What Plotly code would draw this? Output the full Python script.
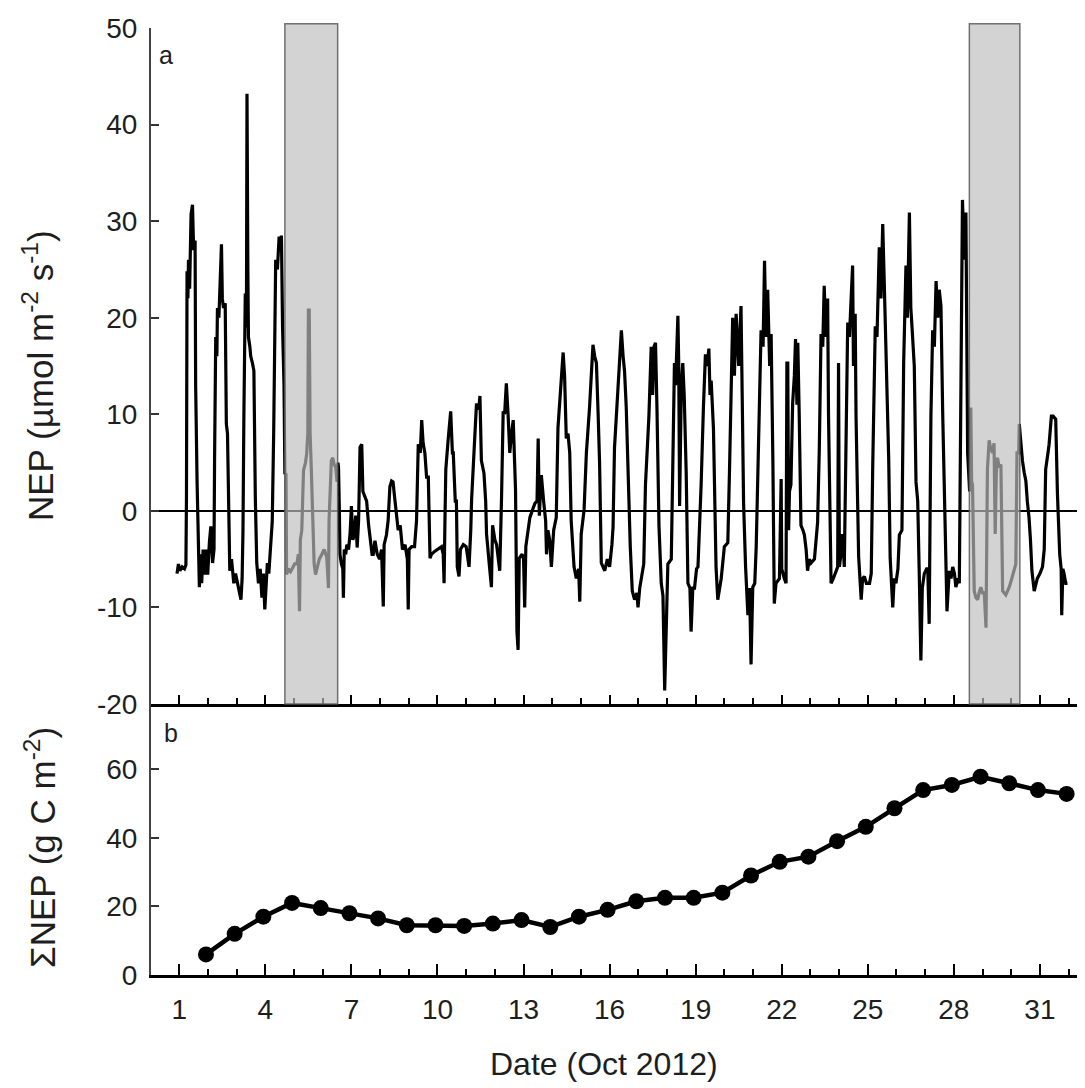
import plotly.graph_objects as go

# ---------------- data ----------------
# Half-hourly NEP (umol m-2 s-1), time as fractional day of Oct 2012
nep_time = [
    0.92, 0.97, 1.02, 1.10, 1.18, 1.23, 1.25, 1.27, 1.30, 1.32, 1.36, 1.41, 1.46, 1.50, 1.55, 1.57, 1.62, 1.65, 1.70, 1.74,
    1.78, 1.83, 1.88, 1.93, 1.99, 2.05, 2.10, 2.16, 2.21, 2.23, 2.27, 2.31, 2.33, 2.38, 2.42, 2.47, 2.50, 2.54, 2.60, 2.64,
    2.68, 2.72, 2.76, 2.82, 2.90, 2.96, 3.03, 3.10, 3.15, 3.19, 3.22, 3.25, 3.28, 3.30, 3.34, 3.36, 3.39, 3.41, 3.46, 3.49,
    3.55, 3.60, 3.65, 3.70, 3.76, 3.82, 3.88, 3.93, 3.98, 4.02, 4.07, 4.12, 4.18, 4.24, 4.29, 4.34, 4.36, 4.42, 4.48, 4.53,
    4.56, 4.60, 4.65, 4.68,
    4.72, 4.74, 4.80, 4.88, 4.95, 5.02, 5.10, 5.15, 5.19, 5.22, 5.27, 5.30, 5.33, 5.40, 5.44, 5.48, 5.50, 5.53, 5.56, 5.60,
    5.65, 5.70, 5.75, 5.80, 5.88, 5.97, 6.05, 6.14, 6.20, 6.22, 6.26, 6.30, 6.35, 6.40, 6.45, 6.50,
    6.53, 6.55, 6.58, 6.60, 6.65, 6.70, 6.72, 6.75, 6.80, 6.84, 6.90, 6.95, 7.00, 7.05, 7.10, 7.15, 7.20, 7.25, 7.30, 7.36,
    7.40, 7.46, 7.53, 7.60, 7.66, 7.72, 7.76, 7.82, 7.90, 7.98, 8.05, 8.11, 8.14,
    8.22, 8.28, 8.34, 8.40, 8.45, 8.52, 8.58, 8.63, 8.70, 8.78, 8.87, 8.95, 8.98, 9.01, 9.10, 9.20, 9.27, 9.30, 9.33, 9.40,
    9.45, 9.50, 9.56, 9.62, 9.68, 9.74, 9.79, 9.90, 10.00, 10.14, 10.20, 10.23, 10.26, 10.29, 10.37, 10.43, 10.46, 10.52, 10.55, 10.62,
    10.66, 10.69, 10.75, 10.80, 10.90, 11.00, 11.10, 11.16, 11.19, 11.28, 11.36, 11.44, 11.48, 11.53, 11.62, 11.68, 11.71, 11.82, 11.88, 11.92,
    12.00, 12.06, 12.17, 12.23, 12.29, 12.34, 12.40, 12.46, 12.52, 12.58, 12.64, 12.70, 12.72, 12.77, 12.81, 12.85, 12.95, 13.00, 13.04, 13.08,
    13.15, 13.22, 13.30, 13.40, 13.47, 13.51, 13.55, 13.62, 13.70, 13.77, 13.80, 13.85, 13.91, 13.97, 14.05, 14.14, 14.20, 14.30, 14.35, 14.38,
    14.43, 14.49, 14.55, 14.61, 14.66, 14.69, 14.76, 14.84, 14.92, 14.96, 15.01, 15.11, 15.19, 15.30, 15.38, 15.42, 15.48, 15.54, 15.60, 15.65,
    15.71, 15.83, 15.92, 16.00, 16.08, 16.12, 16.17, 16.27, 16.35, 16.41, 16.47, 16.52, 16.58, 16.64, 16.72, 16.79, 16.87, 16.95, 16.99, 17.05,
    17.10, 17.19, 17.25, 17.37, 17.45, 17.50, 17.55, 17.60, 17.65, 17.72, 17.80, 17.86, 17.92, 17.97, 18.03, 18.15, 18.21, 18.26, 18.30, 18.38,
    18.41, 18.44, 18.50, 18.55, 18.60, 18.67, 18.73, 18.80, 18.84, 18.90, 18.96, 19.03, 19.08, 19.13, 19.19, 19.27, 19.34, 19.40, 19.46, 19.50,
    19.54, 19.62, 19.68, 19.71, 19.77, 19.85, 19.89, 20.00, 20.12, 20.18, 20.24, 20.29, 20.35, 20.41, 20.50, 20.58, 20.63, 20.67, 20.74, 20.82,
    20.88, 20.93, 20.99, 21.06, 21.11, 21.20, 21.28, 21.35, 21.40, 21.45, 21.51, 21.58, 21.63, 21.69, 21.74, 21.80, 21.92, 21.98, 22.00, 22.09,
    22.15, 22.18, 22.21, 22.24, 22.27, 22.32, 22.38, 22.44, 22.48, 22.53, 22.56, 22.61, 22.67, 22.74, 22.79, 22.85, 22.90, 22.96, 23.02, 23.14,
    23.25, 23.31, 23.37, 23.43, 23.48, 23.54, 23.60, 23.63, 23.66, 23.72, 23.80, 23.89, 23.95, 23.98, 24.01, 24.08, 24.12, 24.18, 24.24, 24.30,
    24.36, 24.41, 24.47, 24.50, 24.56, 24.59, 24.64, 24.68, 24.77, 24.82, 24.88, 24.95, 25.06, 25.12, 25.17, 25.26, 25.32, 25.40, 25.46, 25.52,
    25.58, 25.64, 25.70, 25.73, 25.78, 25.87, 25.92, 25.98, 26.05, 26.10, 26.19, 26.25, 26.33, 26.38, 26.45, 26.50, 26.54, 26.62, 26.68, 26.74,
    26.80, 26.85, 26.90, 26.97, 27.05, 27.09, 27.14, 27.20, 27.26, 27.32, 27.38, 27.44, 27.49, 27.55, 27.61, 27.70, 27.76, 27.84, 27.90, 27.96,
    28.02, 28.07, 28.15, 28.19, 28.25, 28.30, 28.36, 28.42, 28.48,
    28.51, 28.55, 28.59, 28.62, 28.65, 28.71, 28.77, 28.83, 28.88, 28.94, 29.00, 29.06, 29.12, 29.15, 29.17, 29.23, 29.28, 29.35, 29.40, 29.44,
    29.48, 29.52, 29.58, 29.64, 29.67, 29.70, 29.81, 29.93, 30.02, 30.10, 30.16, 30.20,
    30.26, 30.28, 30.33, 30.39, 30.45, 30.51, 30.56, 30.62, 30.67, 30.72, 30.80, 30.86, 30.91, 31.00, 31.09, 31.15, 31.20, 31.28, 31.32, 31.40,
    31.46, 31.55, 31.61, 31.69, 31.74, 31.76, 31.80, 31.84, 31.90, 31.96,
]
nep_value = [
    -6.5, -5.5, -6.2, -5.8, -6.0, -5.6, 1.4, 24.8, 22, 26, 23, 30.7, 31.7, 27, 28, 13, 3, -2.4, -7.9, -4.5,
    -7.5, -4, -6.6, -4, -6.6, -3.2, -1.6, -5.4, -4, 5.4, 18, 16, 21, 20, 24.6, 27.6, 22, 21, 21.5, 9,
    8, -1.1, -6.2, -5, -7.5, -6.5, -7.5, -8.2, -9.2, -7, -2, 9.4, 15, 22.5, 19, 43.2, 25, 18, 17, 16,
    15.3, 14.5, 1.4, -5.4, -7.5, -6, -9, -6.5, -10.2, -8, -5.4, -6.5, -4, -1.1, 8.1, 18, 26, 25, 28.4, 27.5,
    28.5, 19, 13, 3.9,
    3.8, -6.6, -6, -6.3, -5.8, -5.5, -5.5, -4.5, -10.4, -3, -2, 2, 4.2, 5, 5.9, 8, 20.8, 20.8, 8, 4.5,
    -2, -5.5, -6.6, -6, -5, -4.5, -4, -4.8, -8, -1, 3.1, 5.2, 5.5, 4.8, 4.5, 3,
    5, 4.5, 0, -4.5, -5.5, -6, -9, -4, -4.5, -3.5, -4, -2.5, 0.5, -3, -2.5, -0.5, -3.8, -1, 6.6, 6.9,
    2, 1.5, 1, -1.5, -3.2, -4.5, -4.5, -3.1, -4.5, -5, -4, -9.9, -3.5,
    -2.5, -1, 2.5, 3.1, 3, 1, -1, -2, -1.5, -4, -3.5, -5, -10.2, -4, -3.7, -3.7, -1, 3, 6.9, 6,
    9.4, 7, 6, 3.5, 3.5, -4.9, -4.5, -4.2, -4, -3.7, -4.5, -7.5, -1, 4.3, 7.3, 10, 10.3, 6, 6, 1,
    1, -5.8, -6.8, -4, -3.5, -3.7, -5.8, -2, 1.2, 6.5, 11.1, 10.5, 11.9, 5.2, 3.9, 1, -2.4, -6, -7.9, -1.5,
    -3, -3.5, -6.2, 1, 10.3, 10, 13.2, 10, 6, 8, 9.4, 4, 2.2, -12.5, -14.4, -4.9, -4.5, -5, -10, -3.7,
    -2, -0.7, 0, 0.8, 1, 7.5, -0.5, 3.7, 1, -1, -4.5, -2, -3, -5.8, -2, -0.7, 8.6, 12.8, 15, 16.4,
    14, 7.5, 8, 6, -1, -2.5, -5.8, -7, -6, -9.4, -2.4, 0.1, 6, 10.7, 15, 17.2, 16, 15.3, 10, 5,
    -5.4, -6.2, -5, -5.8, -3.5, -1.7, 6.5, 11.9, 15, 18.7, 16, 14.5, 10.7, 3.5, -3.7, -8.3, -9.2, -8.5, -10, -8,
    -7, -5.5, 2.7, 9.8, 17, 12, 17, 17.4, 10.7, -1.5, -7.5, -8.8, -18.6, -13.8, -5.5, -5, 4.8, 15.3, 13, 20.2,
    15, 0.5, 13, 15.3, 12, 3.9, -7.5, -8, -12.5, -8, -8, -6, -5.8, -2.4, 2.7, 10.7, 16.2, 15, 16.8, 12,
    13.5, 8.5, -2, -5.8, -9.2, -7.5, -7, -3.7, -3.3, 4.3, 15, 20, 14, 20.4, 15, 21.2, 10, 0.8, -5.8, -10.8,
    -8, -15.9, -7.9, -7.5, -3.7, 7.3, 18.7, 17, 25.9, 18, 22.9, 15, 18.3, 5.5, -9.6, -7.5, -7, 3.3, -6, -7,
    -7.5, 15.3, 15.3, -2, 2, 2.7, 11.1, 14, 17.8, 11, 17.4, 9.8, -1.5, -2, -2.5, -4, -6.2, -5, -5.4, -5,
    -1.2, 6.5, 18.3, 17, 23.3, 18, 22, 10, 2.2, -7.5, -7, -6.2, -5.8, 15.3, -5.8, -4, -2.4, -5.8, 9, 19.5,
    18, 21.2, 25.4, 15, 20.4, 9.8, 3, -4.7, -9.2, -7, -6.8, -7.5, -7.5, -6.5, 4.3, 19.1, 18, 27.3, 22, 29.7,
    22.9, 16.6, 10, 5.2, -4.9, -10, -7, -7.5, -6, -2.5, -2, 15.3, 25.4, 20, 30.9, 21, 19.1, 15, 3, 1,
    -7.5, -15.5, -8, -6.5, -6, -6, -11.7, 9.8, 18.7, 17, 23.8, 20, 22.9, 21.2, 10.2, -1, -10.4, -6.2, -7, -5.8,
    -6.5, -7.9, -7, -7.5, 17.4, 32.2, 26, 30.9, 6,
    4, 2, 10.7, 3, 2.7, -8.3, -9, -9.2, -8.5, -7.9, -8.5, -8.5, -12.1, -3, 4.3, 7.3, 6.5, 6, 7, -2.4,
    4, 5.5, 4.5, 4.8, -2, -8.3, -8.7, -7.9, -7, -6.2, -5.5, 6,
    6, 9, 7, 5.2, 4, 3.1, 1, -0.7, -3, -6.2, -8.3, -7.5, -7, -6.5, -5.8, -4, 4.3, 6, 6.9, 9.8,
    9.8, 9.5, 1.8, -4.5, -6, -10.8, -6, -6.5, -7.5, -7.5,
]

# Cumulative NEP (g C m-2) at the end of each day
cum_time = [1.93, 2.93, 3.93, 4.93, 5.93, 6.93, 7.93, 8.93, 9.93, 10.93, 11.93, 12.93, 13.93, 14.93, 15.93, 16.93,
            17.93, 18.93, 19.93, 20.93, 21.93, 22.93, 23.93, 24.93, 25.93, 26.93, 27.93, 28.93, 29.93, 30.93, 31.93]
cum_value = [6, 12, 17, 21, 19.5, 18, 16.5, 14.5, 14.5, 14.3, 15, 16, 14, 17, 19, 21.5,
             22.5, 22.5, 24, 29, 33, 34.5, 39, 43.2, 48.6, 53.9, 55.4, 57.8, 55.9, 53.9, 52.8]

# Gap-filled periods (shaded)
gap_start = [4.68, 28.54]
gap_end = [6.52, 30.30]

x_tickvals = [1, 4, 7, 10, 13, 16, 19, 22, 25, 28, 31]
x_ticktext = ["1", "4", "7", "10", "13", "16", "19", "22", "25", "28", "31"]
ya_tickvals = [-20, -10, 0, 10, 20, 30, 40, 50]
ya_ticktext = ["-20", "-10", "0", "10", "20", "30", "40", "50"]
yb_tickvals = [0, 20, 40, 60]
yb_ticktext = ["0", "20", "40", "60"]

# ---------------- figure ----------------
XR = [0.0136, 32.85]
D = 0.28617  # boundary between panels (paper)
PW = 942     # plot-area width in px
FONT = "Liberation Sans, Arial, sans-serif"
TXT = "#1e1e1e"

fig = go.Figure()
fig.add_trace(go.Scatter(x=nep_time, y=nep_value, mode="lines",
                         line=dict(color="black", width=3.2), xaxis="x", yaxis="y",
                         hoverinfo="skip", showlegend=False))
fig.add_trace(go.Scatter(x=cum_time, y=cum_value, mode="lines+markers",
                         line=dict(color="black", width=4.5),
                         marker=dict(size=16, color="black"), xaxis="x2", yaxis="y2",
                         showlegend=False))

minor_up = dict(ticks="inside", ticklen=6, tickwidth=1.5, tickcolor="black", tick0=1, dtick=1)

fig.update_layout(
    width=1085, height=1080,
    margin=dict(l=143, r=0, t=20, b=113),
    plot_bgcolor="white", paper_bgcolor="white",
    font=dict(family=FONT, color=TXT, size=28),
    showlegend=False,
    xaxis=dict(domain=[0, 1], anchor="y", range=XR, tickmode="array", tickvals=x_tickvals,
               showticklabels=False, ticks="inside", ticklen=9, tickwidth=1.8, tickcolor="black",
               minor=minor_up, showline=True, linecolor="black", linewidth=3,
               showgrid=False, zeroline=False),
    xaxis4=dict(overlaying="x", anchor="y", side="top", range=XR, showline=True,
                linecolor="#505050", linewidth=2, ticks="", showticklabels=False,
                showgrid=False, zeroline=False),
    yaxis=dict(domain=[D, 1], anchor="x", range=[-20, 50], tickmode="array", tickvals=ya_tickvals,
               ticktext=ya_ticktext,
               ticks="inside", ticklen=8, tickwidth=1.5, tickcolor="#333",
               showline=True, linecolor="#444", linewidth=2,
               zeroline=True, zerolinecolor="black", zerolinewidth=2,
               showgrid=False, tickfont=dict(size=28, family=FONT, color=TXT),
               ticklabelstandoff=6),
    xaxis2=dict(domain=[0, 1], anchor="y2", range=XR, tickmode="array", tickvals=x_tickvals,
                ticktext=x_ticktext, ticks="inside", ticklen=11, tickwidth=1.8, tickcolor="black",
                minor=dict(ticks="inside", ticklen=6, tickwidth=1.5, tickcolor="black", tick0=1, dtick=1),
                showline=True, linecolor="black", linewidth=2.5, showgrid=False, zeroline=False,
                tickfont=dict(size=28, family=FONT, color=TXT), ticklabelstandoff=8),
    xaxis3=dict(overlaying="x2", anchor="y2", side="top", range=XR, tickmode="array",
                tickvals=x_tickvals, showticklabels=False, ticks="inside", ticklen=10,
                tickwidth=1.8, tickcolor="black",
                minor=dict(ticks="inside", ticklen=6, tickwidth=1.5, tickcolor="black", tick0=1, dtick=1),
                showline=True, linecolor="black", linewidth=3, showgrid=False, zeroline=False),
    yaxis2=dict(domain=[0, D], anchor="x2", range=[0, 79], tickmode="array", tickvals=yb_tickvals,
                ticktext=yb_ticktext,
                ticks="inside", ticklen=8, tickwidth=1.5, tickcolor="#333",
                showline=True, linecolor="#444", linewidth=2, showgrid=False, zeroline=False,
                tickfont=dict(size=28, family=FONT, color=TXT), ticklabelstandoff=6),
)

for xs, xe in zip(gap_start, gap_end):
    fig.add_shape(type="rect", xref="x", yref="paper", x0=xs, x1=xe, y0=D, y1=1.0045,
                  fillcolor="rgba(190,190,190,0.675)",
                  line=dict(color="rgba(90,90,90,0.85)", width=1.5), layer="above")

# paper coords from page pixels: plot area starts at page x=151, bottom at page y=975
fig.add_annotation(text="a", xref="paper", yref="paper", x=(166 - 151) / PW, y=0.972, showarrow=False,
                   font=dict(size=25, family=FONT, color=TXT), xanchor="center", yanchor="middle")
fig.add_annotation(text="b", xref="paper", yref="paper", x=(171 - 151) / PW, y=0.2555, showarrow=False,
                   font=dict(size=25, family=FONT, color=TXT), xanchor="center", yanchor="middle")
fig.add_annotation(text="NEP (µmol m<sup>-2</sup> s<sup>-1</sup>)", xref="paper", yref="paper",
                   x=(38 - 151) / PW, y=(975 - 376) / 947, showarrow=False, textangle=-90,
                   font=dict(size=35, family=FONT, color=TXT), xanchor="center", yanchor="middle")
fig.add_annotation(text="ΣNEP (g C m<sup>-2</sup>)", xref="paper", yref="paper",
                   x=(40 - 151) / PW, y=(975 - 848) / 947, showarrow=False, textangle=-90,
                   font=dict(size=35, family=FONT, color=TXT), xanchor="center", yanchor="middle")
fig.add_annotation(text="Date (Oct 2012)", xref="paper", yref="paper",
                   x=(604 - 151) / PW, y=(975 - 1064) / 947, showarrow=False,
                   font=dict(size=32, family=FONT, color=TXT), xanchor="center", yanchor="middle")

fig.write_html("out.html")
